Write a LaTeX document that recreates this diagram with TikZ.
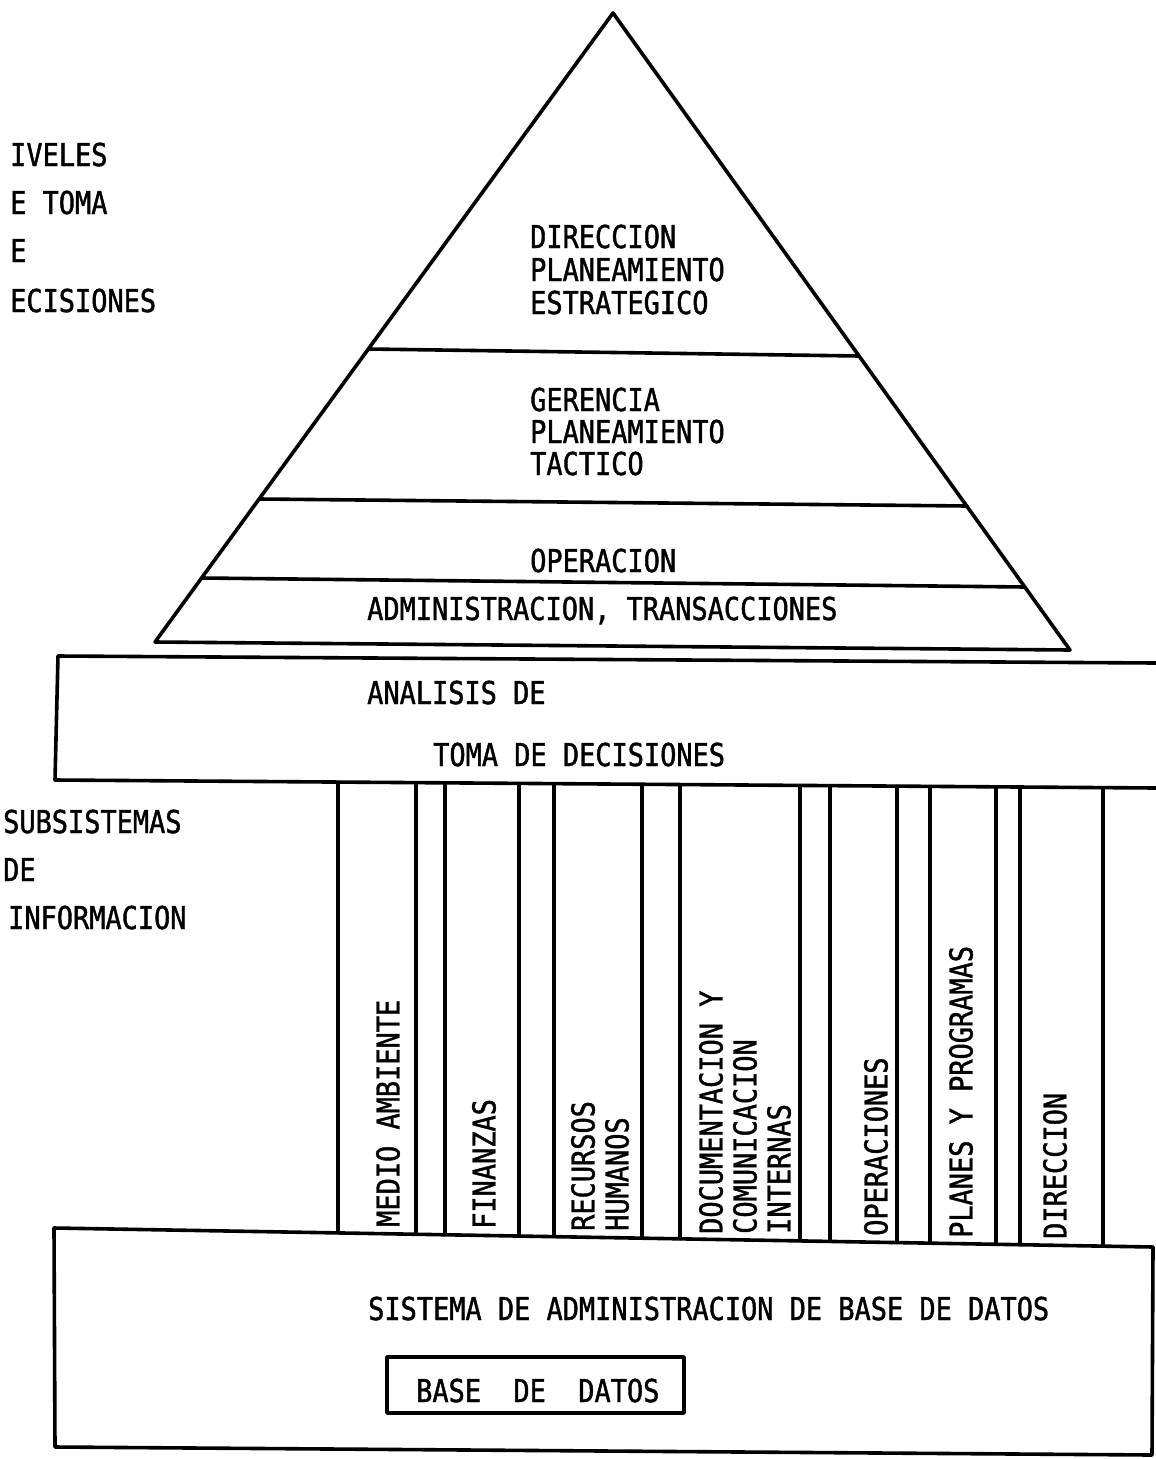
\documentclass[tikz,border=0pt]{standalone}
\usepackage{fontspec}
\newfontfamily\typew[FakeStretch=0.855,FakeBold=1.3]{DejaVu Sans Mono}
\begin{document}
\begin{tikzpicture}[x=1pt,y=-1pt,
  rule/.style={line width=3.6pt, line join=round, line cap=round},
  colrule/.style={line width=3.1pt, line cap=round},
  lbl/.style={inner sep=0pt, font={\typew\fontsize{31.5}{34}\selectfont}, anchor=base west},
  vlbl/.style={inner sep=0pt, font={\typew\fontsize{31.5}{34}\selectfont}, rotate=90, anchor=west, align=left}]
\useasboundingbox (0,0) rectangle (1156,1459);

% ---------- pyramid of decision levels ----------
\coordinate (apex) at (613,13);
\coordinate (bl) at (155,642);
\coordinate (br) at (1070,650);
\coordinate (l1a) at (369,349);  \coordinate (l1b) at (859,356);
\coordinate (l2a) at (260,499);  \coordinate (l2b) at (967,506);
\coordinate (l3a) at (202,578);  \coordinate (l3b) at (1025,587);
\draw[rule] (bl) -- (apex) -- (br) -- cycle;
\draw[rule] (l1a) -- (l1b);
\draw[rule] (l2a) -- (l2b);
\draw[rule] (l3a) -- (l3b);

\node[lbl] (dir1) at (530,248) {DIRECCION};
\node[lbl] (dir2) at (530,281) {PLANEAMIENTO};
\node[lbl] (dir3) at (530,314) {ESTRATEGICO};
\node[lbl] (ger1) at (530,411) {GERENCIA};
\node[lbl] (ger2) at (530,443) {PLANEAMIENTO};
\node[lbl] (ger3) at (530,475) {TACTICO};
\node[lbl] (oper) at (530,572) {OPERACION};
\node[lbl] (adm)  at (367,620) {ADMINISTRACION, TRANSACCIONES};

% ---------- side captions ----------
\node[lbl] (niv1) at (10,166) {IVELES};
\node[lbl] (niv2) at (10,214) {E TOMA};
\node[lbl] (niv3) at (10,262) {E};
\node[lbl] (niv4) at (10,312) {ECISIONES};
\node[lbl] (sub1) at (3,833) {SUBSISTEMAS};
\node[lbl] (sub2) at (3,881) {DE};
\node[lbl] (sub3) at (8,929) {INFORMACION};

% ---------- decision analysis band ----------
\coordinate (atl) at (58,656);  \coordinate (atr) at (1156,663);
\coordinate (abl) at (55,780);  \coordinate (abr) at (1156,788);
\draw[rule] (atr) -- (atl) -- (abl) -- (abr);
\node[lbl] (ana1) at (367,704) {ANALISIS DE};
\node[lbl] (ana2) at (433,766) {TOMA DE DECISIONES};

% ---------- information subsystem columns ----------
\foreach \x in {338,416,445,519,554,642,680,800,830,897,930,996,1020,1103} {
  \pgfmathsetmacro\ytop{780+(\x-55)/1101*8}
  \pgfmathsetmacro\ybot{1228+(\x-54)/1099*19}
  \draw[colrule] (\x,\ytop) -- (\x,\ybot);
}
\node[vlbl] (s1) at (388,1227) {MEDIO AMBIENTE};
\node[vlbl] (s2) at (484,1229) {FINANZAS};
\node[vlbl] (s3) at (600,1231) {RECURSOS\\HUMANOS};
\node[vlbl] (s4) at (745,1234) {DOCUMENTACION Y\\COMUNICACION\\INTERNAS};
\node[vlbl] (s5) at (876,1236) {OPERACIONES};
\node[vlbl] (s6) at (961,1238) {PLANES Y PROGRAMAS};
\node[vlbl] (s7) at (1055,1239) {DIRECCION};

% ---------- database management system ----------
\coordinate (dtl) at (54,1228);  \coordinate (dtr) at (1153,1247);
\coordinate (dbr) at (1152,1455); \coordinate (dbl) at (55,1447);
\draw[rule] (dtl) -- (dtr) -- (dbr) -- (dbl) -- cycle;
\node[lbl] (sgbd) at (368,1320) {SISTEMA DE ADMINISTRACION DE BASE DE DATOS};

\coordinate (bdtl) at (387,1357); \coordinate (bdbr) at (684,1413);
\draw[rule] (bdtl) rectangle (bdbr);
\node[lbl] (bd) at (416,1402) {BASE\ \ DE\ \ DATOS};
\end{tikzpicture}
\end{document}
